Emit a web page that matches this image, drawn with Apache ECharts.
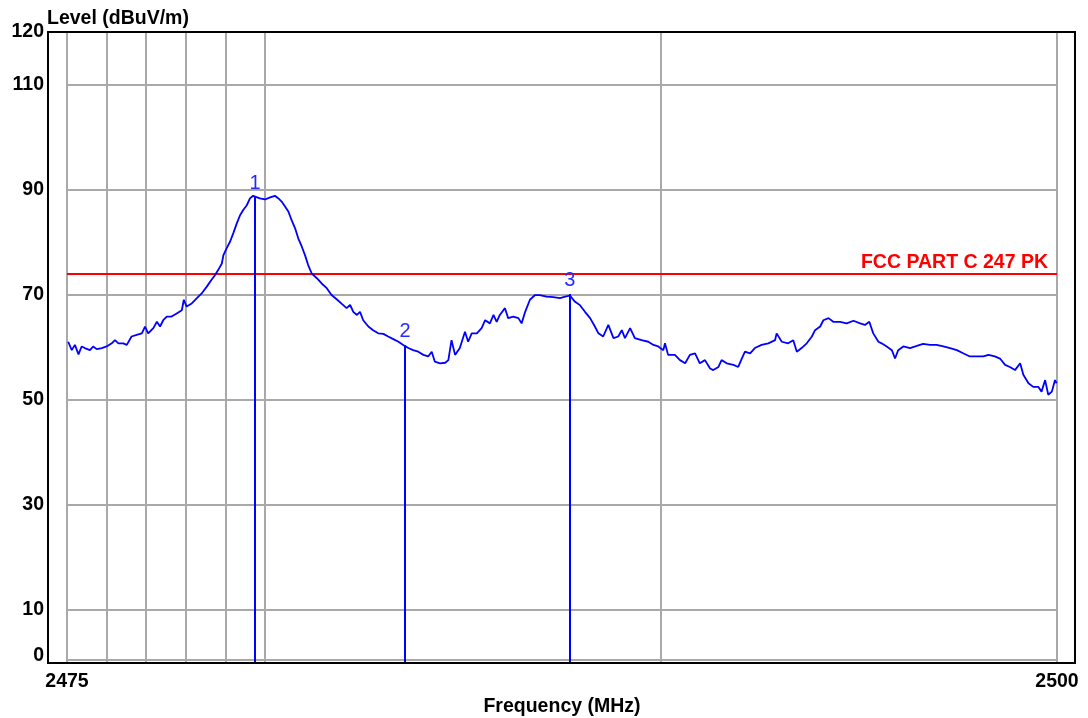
<!DOCTYPE html>
<html>
<head>
<meta charset="utf-8">
<script src="https://cdn.jsdelivr.net/npm/echarts@6/dist/echarts.min.js"></script>
<style>
html,body{margin:0;padding:0;background:#fff;}
#c{width:1088px;height:718px;}
</style>
</head>
<body>
<div id="c"></div>
<script>
// Frequency (MHz) of trace samples
const freq = [
2475.03,2475.12,2475.20,2475.29,2475.37,2475.45,2475.58,2475.66,2475.75,2475.88,
2476.00,2476.13,2476.21,2476.30,2476.42,2476.51,2476.63,2476.76,2476.89,2476.97,
2477.05,2477.18,2477.27,2477.35,2477.43,2477.52,2477.64,2477.77,2477.90,2477.95,
2478.02,2478.15,2478.28,2478.40,2478.53,2478.65,2478.74,2478.82,2478.91,2478.95,
2479.03,2479.12,2479.20,2479.29,2479.37,2479.45,2479.54,2479.62,2479.70,2479.75,
2479.87,2480.00,2480.13,2480.25,2480.34,2480.42,2480.51,2480.59,2480.67,2480.76,
2480.84,2480.93,2481.01,2481.09,2481.18,2481.31,2481.43,2481.56,2481.68,2481.81,
2481.94,2482.06,2482.15,2482.23,2482.32,2482.40,2482.48,2482.61,2482.73,2482.86,
2482.99,2483.11,2483.24,2483.37,2483.49,2483.54,2483.62,2483.74,2483.87,2484.00,
2484.12,2484.21,2484.29,2484.42,2484.55,2484.63,2484.71,2484.80,2484.92,2485.05,
2485.13,2485.22,2485.35,2485.47,2485.56,2485.68,2485.77,2485.85,2485.93,2486.06,
2486.14,2486.27,2486.40,2486.48,2486.57,2486.69,2486.82,2486.94,2487.11,2487.28,
2487.45,2487.58,2487.70,2487.83,2487.95,2488.08,2488.21,2488.33,2488.42,2488.54,
2488.67,2488.80,2488.92,2489.01,2489.09,2489.22,2489.34,2489.51,2489.68,2489.81,
2489.93,2490.06,2490.10,2490.18,2490.35,2490.48,2490.61,2490.73,2490.86,2490.98,
2491.11,2491.24,2491.32,2491.45,2491.53,2491.66,2491.83,2491.95,2492.04,2492.12,
2492.25,2492.37,2492.54,2492.71,2492.88,2492.92,2493.05,2493.21,2493.34,2493.43,
2493.55,2493.68,2493.81,2493.89,2494.02,2494.10,2494.23,2494.35,2494.52,2494.69,
2494.86,2495.03,2495.15,2495.26,2495.36,2495.49,2495.57,2495.70,2495.83,2495.91,
2495.99,2496.12,2496.29,2496.46,2496.62,2496.79,2496.96,2497.13,2497.30,2497.47,
2497.63,2497.80,2497.97,2498.14,2498.27,2498.43,2498.56,2498.69,2498.81,2498.94,
2499.07,2499.15,2499.28,2499.40,2499.53,2499.61,2499.70,2499.78,2499.87,2499.95,
2499.99
];
// Level (dBuV/m) of trace samples
const level = [
61.0,59.4,60.4,58.6,60.1,59.8,59.4,60.1,59.6,59.8,
60.1,60.7,61.3,60.7,60.7,60.4,62.0,62.3,62.6,63.9,
62.6,63.6,64.8,63.9,65.1,65.8,65.8,66.4,67.0,69.0,
67.7,68.3,69.3,70.2,71.5,72.8,73.7,74.7,75.9,77.5,
78.8,80.1,81.7,83.6,85.1,86.1,87.0,88.3,88.8,88.6,
88.3,88.1,88.5,88.8,88.3,87.7,86.7,85.8,84.2,82.6,
80.7,79.1,77.5,75.6,74.0,73.1,72.1,71.2,69.9,69.1,
68.2,67.4,68.0,66.7,66.1,66.7,65.1,63.9,63.2,62.6,
62.5,62.0,61.5,61.0,60.4,60.4,59.8,59.4,59.1,58.5,
58.2,59.1,57.2,56.9,57.0,57.5,61.3,58.5,59.8,62.9,
61.0,62.6,62.6,63.6,65.1,64.5,66.1,64.8,66.1,67.4,
65.5,65.8,65.5,64.5,66.7,69.0,69.9,69.9,69.6,69.5,
69.3,69.6,69.8,68.6,68.0,66.7,65.5,63.9,62.6,62.0,
64.2,61.7,62.0,63.2,61.7,63.6,61.7,61.3,61.0,60.4,
60.1,59.4,60.7,58.5,58.5,57.5,56.9,58.5,58.8,56.9,
57.5,55.9,55.6,56.2,57.5,56.9,56.6,56.2,57.8,59.1,
58.8,59.8,60.4,60.7,61.3,62.6,61.0,60.7,61.3,59.1,
59.8,60.7,62.0,63.2,63.9,65.1,65.5,64.8,64.8,64.5,
65.0,64.5,64.2,64.8,62.6,61.0,60.7,60.1,59.4,57.8,
59.4,60.1,59.8,60.2,60.6,60.4,60.4,60.1,59.8,59.4,
58.8,58.2,58.2,58.2,58.5,58.2,57.8,56.6,56.2,55.6,
56.9,54.7,53.1,52.4,52.4,51.5,53.7,50.9,51.5,53.7,
53.1
];
// Markers
const markerFreq = [2479.75, 2483.54, 2487.70];
const markerLevel = [88.6, 60.4, 70.1];
const markerNames = ['1', '2', '3'];
// Limit line
const limitName = 'FCC PART C 247 PK';
const limitLevel = 74;
// Axes
const xMin = 2475, xMax = 2500;
const yMin = 0, yMax = 120;
const yTickLabels = [0, 10, 30, 50, 70, 90, 110, 120];
const gridX = [2475, 2476, 2477, 2478, 2479, 2480, 2490, 2500];
const gridY = [10, 30, 50, 70, 90, 110];
const gridBottomLevel = 0.5;

const FONT = '"Liberation Sans", Arial, Helvetica, sans-serif';
const chart = echarts.init(document.getElementById('c'));

const trace = freq.map((f, i) => [f, level[i]]);

const gridLines = gridX.map(v => ({ xAxis: v }))
  .concat(gridY.map(v => ({ yAxis: v })))
  .concat([{ yAxis: gridBottomLevel }]);

const markerLines = markerFreq.map((f, i) => [
  { coord: [f, yMin] },
  { coord: [f, markerLevel[i]], label: { formatter: markerNames[i] } }
]);

chart.setOption({
  animation: false,
  backgroundColor: '#ffffff',
  title: {
    text: 'Level (dBuV/m)',
    left: 42, top: 4,
    textStyle: { fontFamily: FONT, fontSize: 19.5, fontWeight: 'bold', color: '#000' }
  },
  graphic: [{
    type: 'rect',
    shape: { x: 48, y: 32, width: 1027, height: 631 },
    style: { fill: 'none', stroke: '#000', lineWidth: 2 },
    z: 10, silent: true
  }],
  grid: { left: 67, right: 31, top: 32, bottom: 56, containLabel: false, outerBoundsMode: 'none' },
  xAxis: {
    type: 'value', min: xMin, max: xMax, interval: 25,
    name: 'Frequency (MHz)', nameLocation: 'middle', nameGap: 33,
    nameTextStyle: { fontFamily: FONT, fontSize: 19.5, fontWeight: 'bold', color: '#000' },
    axisLine: { show: false }, axisTick: { show: false }, splitLine: { show: false },
    axisLabel: { fontFamily: FONT, fontSize: 19.5, fontWeight: 'bold', color: '#000', margin: 10,
      formatter: v => String(v) }
  },
  yAxis: {
    type: 'value', min: yMin, max: yMax, interval: 10,
    axisLine: { show: false }, axisTick: { show: false }, splitLine: { show: false },
    axisLabel: {
      fontFamily: FONT, fontSize: 19.5, fontWeight: 'bold', color: '#000', margin: 23,
      formatter: v => {
        if (v === 0) return '{z|0}';
        return yTickLabels.indexOf(v) >= 0 ? String(v) : '';
      },
      rich: { z: { fontFamily: FONT, fontSize: 19.5, fontWeight: 'bold', color: '#000', padding: [0, 0, 13, 0] } }
    }
  },
  series: [
    {
      type: 'line', data: [], z: 1,
      markLine: {
        silent: true, symbol: 'none', z: 1,
        lineStyle: { color: '#a9a9a9', width: 2, type: 'solid' },
        label: { show: false },
        data: gridLines
      }
    },
    {
      name: 'trace', type: 'line', data: trace, z: 3,
      showSymbol: false, symbol: 'none',
      lineStyle: { color: '#0000ff', width: 1.8 },
      markLine: {
        silent: true, symbol: 'none', z: 4,
        lineStyle: { color: '#0000ff', width: 2, type: 'solid' },
        label: { show: true, position: 'end', distance: 3, color: '#2a2aff', fontFamily: FONT, fontSize: 20, fontWeight: 'normal' },
        data: markerLines
      }
    },
    {
      name: 'limit', type: 'line', data: [], z: 2,
      markLine: {
        silent: true, symbol: 'none', z: 2,
        lineStyle: { color: '#ff0000', width: 2, type: 'solid' },
        label: {
          show: true, position: 'insideEndTop', distance: [9, 1],
          formatter: limitName, color: '#ff0000',
          fontFamily: FONT, fontSize: 19.5, fontWeight: 'bold'
        },
        data: [{ yAxis: limitLevel }]
      }
    }
  ]
});
</script>
</body>
</html>
